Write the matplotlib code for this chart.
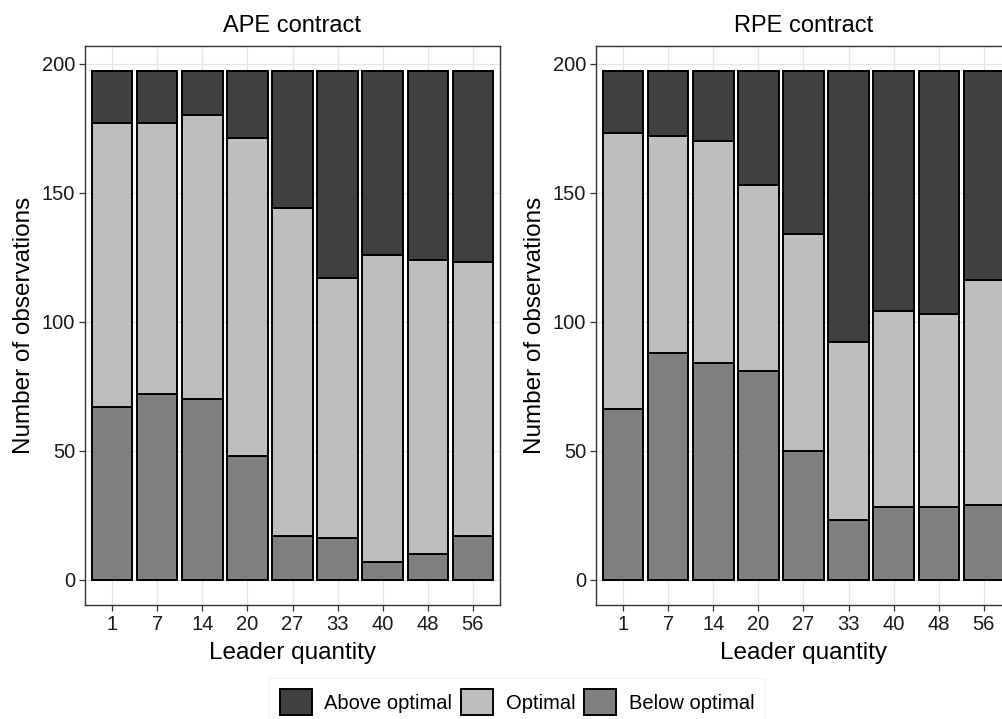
import numpy as np
from matplotlib import pyplot as plt
from matplotlib.patches import Patch

plt.rcParams["font.family"] = ["Liberation Sans", "DejaVu Sans"]

# Leader quantities shown on the x axis
leader = ["1", "7", "14", "20", "27", "33", "40", "48", "56"]

# APE contract counts
ape_below = [67, 72, 70, 48, 17, 16, 7, 10, 17]
ape_optimal = [110, 105, 110, 123, 127, 101, 119, 114, 106]
ape_above = [20, 20, 17, 26, 53, 80, 71, 73, 74]

# RPE contract counts
rpe_below = [66, 88, 84, 81, 50, 23, 28, 28, 29]
rpe_optimal = [107, 84, 86, 72, 84, 69, 76, 75, 87]
rpe_above = [24, 25, 27, 44, 63, 105, 93, 94, 81]

categories = ["Above optimal", "Optimal", "Below optimal"]
colors = {"Above optimal": "#404040", "Optimal": "#BEBEBE", "Below optimal": "#7F7F7F"}

W, H = 1003, 719
fig = plt.figure(figsize=(W / 100, H / 100), dpi=100)


def draw_panel(ax, title, below, optimal, above):
    x = np.arange(1, len(leader) + 1)
    below = np.array(below)
    optimal = np.array(optimal)
    above = np.array(above)
    kw = dict(width=0.9, edgecolor="black", linewidth=1.4, zorder=3)
    ax.bar(x, below, color=colors["Below optimal"], **kw)
    ax.bar(x, optimal, bottom=below, color=colors["Optimal"], **kw)
    ax.bar(x, above, bottom=below + optimal, color=colors["Above optimal"], **kw)

    total = (below + optimal + above).max()
    pad = total * 0.05
    ax.set_ylim(-pad, total + pad)
    ax.set_xlim(0.4, len(leader) + 0.6)
    ax.set_xticks(x)
    ax.set_xticklabels(leader)
    ax.set_yticks([0, 50, 100, 150, 200])

    ax.grid(True, color="#E3E3E3", linewidth=0.9, zorder=0)
    for s in ax.spines.values():
        s.set_color("#333333")
        s.set_linewidth(1.0)
    ax.tick_params(length=4, width=0.9, color="#333333",
                   labelsize=14.5, labelcolor="#1A1A1A", pad=3)
    ax.set_axisbelow(True)

    ax.set_title(title, fontsize=17, pad=10)
    ax.set_xlabel("Leader quantity", fontsize=17.5, labelpad=6)
    ax.set_ylabel("Number of observations", fontsize=17.5, labelpad=5)


bottom = (H - 605) / H
height = (605 - 46) / H
width = 415 / W

ax1 = fig.add_axes([85 / W, bottom, width, height])
draw_panel(ax1, "APE contract", ape_below, ape_optimal, ape_above)

ax2 = fig.add_axes([596 / W, bottom, width, height])
draw_panel(ax2, "RPE contract", rpe_below, rpe_optimal, rpe_above)

handles = [Patch(facecolor=colors[c], edgecolor="black", linewidth=1.4, label=c)
           for c in categories]
leg = fig.legend(handles=handles, loc="upper center",
                 bbox_to_anchor=(517 / W, (H - 668) / H),
                 ncol=3, frameon=True, fontsize=14.5, handlelength=1.6,
                 handleheight=1.6, handletextpad=0.6, columnspacing=0.45,
                 borderpad=0.55, fancybox=False)
leg.get_frame().set_edgecolor("#EEEEEE")
leg.get_frame().set_linewidth(0.8)

fig.savefig("out.png", dpi=100)
